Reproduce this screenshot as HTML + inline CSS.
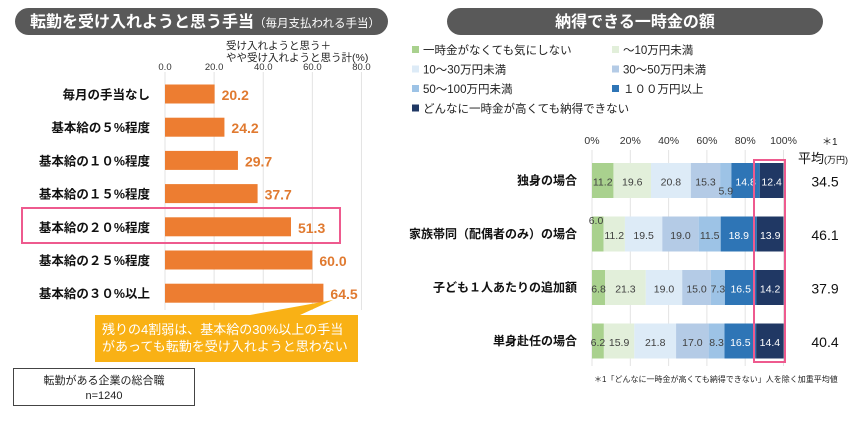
<!DOCTYPE html>
<html><head><meta charset="utf-8">
<style>
body{margin:0;width:865px;height:420px;background:#fff;overflow:hidden;font-family:"Liberation Sans","Noto Sans CJK JP",sans-serif;}
svg text{font-family:"Liberation Sans","Noto Sans CJK JP",sans-serif;}
</style></head>
<body>
<svg id="s" width="865" height="420" xmlns="http://www.w3.org/2000/svg">
<rect x="15" y="8" width="373" height="27" rx="13.5" fill="#595959"/>
<text x="30" y="27" fill="#fff" font-size="16" font-weight="bold">転勤を受け入れようと思う手当<tspan font-size="11.5" font-weight="normal">（毎月支払われる手当）</tspan></text>
<rect x="447" y="8" width="376" height="27" rx="13.5" fill="#595959"/>
<text x="635" y="27" fill="#fff" font-size="16" font-weight="bold" text-anchor="middle">納得できる一時金の額</text>
<text x="226" y="49" font-size="10.5" fill="#222">受け入れようと思う＋</text>
<text x="226" y="61" font-size="10.5" fill="#222">やや受け入れようと思う計(%)</text>
<g id="L"></g>
<rect x="22" y="208" width="318" height="35" fill="none" stroke="#ee5a8e" stroke-width="2"/>
<path d="M95 315 H250 L333 300 L300 315 H358 V362 H95 Z" fill="#f9b115"/>
<text x="102" y="334" font-size="13" fill="#fff">残りの4割弱は、基本給の30%以上の手当</text>
<text x="102" y="351" font-size="13" fill="#fff">があっても転勤を受け入れようと思わない</text>
<rect x="13.5" y="368.5" width="181" height="37" fill="#fff" stroke="#444"/>
<text x="104" y="384" font-size="11" text-anchor="middle" fill="#222">転勤がある企業の総合職</text>
<text x="104" y="399" font-size="11" text-anchor="middle" fill="#222">n=1240</text>
<g id="leg"></g>
<g id="R"></g>
<text x="822" y="145" font-size="10" fill="#222">＊1</text>
<text x="798" y="163" font-size="13" fill="#111">平均<tspan font-size="9">(万円)</tspan></text>
<text x="594" y="382" font-size="8" fill="#222">＊1「どんなに一時金が高くても納得できない」人を除く加重平均値</text>
</svg>
<script>
const leftCats=["毎月の手当なし","基本給の５%程度","基本給の１０%程度","基本給の１５%程度","基本給の２０%程度","基本給の２５%程度","基本給の３０%以上"];
const leftVals=[20.2,24.2,29.7,37.7,51.3,60.0,64.5];
const leftTicks=[0,20,40,60,80];
const rightCats=["独身の場合","家族帯同（配偶者のみ）の場合","子ども１人あたりの追加額","単身赴任の場合"];
const seriesNames=["一時金がなくても気にしない","～10万円未満","10～30万円未満","30～50万円未満","50～100万円未満","１００万円以上","どんなに一時金が高くても納得できない"];
const s1=[11.2,6.0,6.8,6.2];
const s2=[19.6,11.2,21.3,15.9];
const s3=[20.8,19.5,19.0,21.8];
const s4=[15.3,19.0,15.0,17.0];
const s5=[5.9,11.5,7.3,8.3];
const s6=[14.8,18.9,16.5,16.5];
const s7=[12.4,13.9,14.2,14.4];
const means=["34.5","46.1","37.9","40.4"];
const rightTicks=[0,20,40,60,80,100];

const NS="http://www.w3.org/2000/svg";
function mk(p,t,a,txt){const e=document.createElementNS(NS,t);for(const k in a)e.setAttribute(k,a[k]);if(txt!==undefined)e.textContent=txt;p.appendChild(e);return e;}
const L=document.getElementById('L');
const lx=v=>165+v*2.456, ly=i=>94+i*33.2;
leftTicks.forEach(t=>{
 const g=mk(L,'line',{x1:lx(t),x2:lx(t),y1:72,y2:310,stroke:'#e3e3e3'});
 
 const tl=mk(L,'text',{x:lx(t),y:70,'font-size':9.5,'text-anchor':'middle',fill:'#333'},t.toFixed(1));
 
});
leftCats.forEach((c,i)=>{
 const y=ly(i);
 const lb=mk(L,'text',{x:150,y:y+5,'font-size':12.5,'font-weight':'bold','text-anchor':'end',fill:'#111'},c);
 
 const b=mk(L,'rect',{x:lx(0),y:y-9.5,width:lx(leftVals[i])-lx(0),height:19,fill:'#ed7d31'});
 
 const v=mk(L,'text',{x:lx(leftVals[i])+7,y:y+6,'font-size':14,'font-weight':'bold',fill:'#e07a30'},leftVals[i].toFixed(1));
 
});
const colors=['#a9d18e','#e2efda','#ddebf7','#b4cbe6','#9dc3e6','#2e75b6','#203864'];
const leg=document.getElementById('leg');
seriesNames.forEach((n,i)=>{
 const x=i%2?612:412, y=50+Math.floor(i/2)*19.5;
 const sw=mk(leg,'rect',{x:x,y:y-4,width:7,height:7,fill:colors[i]});
 
 const t=mk(leg,'text',{x:x+11,y:y+4,'font-size':11.5,fill:'#222'},n);
 
});
const R=document.getElementById('R');
const rx=v=>592+v*1.915, ry=i=>180.5+i*53.5;
rightTicks.forEach(t=>{
 const g=mk(R,'line',{x1:rx(t),x2:rx(t),y1:150,y2:366,stroke:'#e3e3e3'});
 
 const tl=mk(R,'text',{x:rx(t),y:144,'font-size':10.5,'text-anchor':'middle',fill:'#333'},t+'%');
 
});
const series=[s1,s2,s3,s4,s5,s6,s7];
rightCats.forEach((c,i)=>{
 const y=ry(i);
 const lb=mk(R,'text',{x:577,y:y+4,'font-size':12,'font-weight':'bold','text-anchor':'end',fill:'#111'},c);
 
 let acc=0;
 series.forEach((s,k)=>{
  const v=s[i];
  const r=mk(R,'rect',{x:rx(acc),y:y-17.5,width:rx(acc+v)-rx(acc),height:35,fill:colors[k]});
  
  acc+=v;
 });
 acc=0;
 series.forEach((s,k)=>{
  const v=s[i];
  let tx=rx(acc+v/2), ty=y+5;
  if(k===0&&v<=6.0){tx=rx(acc)+4;ty=y-10;}
  else if(k===4&&i===0){ty=y+14;}
  const t=mk(R,'text',{x:tx,y:ty,'font-size':10.5,'text-anchor':'middle',fill:k>=5?'#fff':'#404040'},v.toFixed(1));
  
  acc+=v;
 });
 const m=mk(R,'text',{x:825,y:y+6,'font-size':14,'text-anchor':'middle',fill:'#111'},means[i]);
 
});
const hb=mk(R,'rect',{x:754,y:160,width:31,height:202,fill:'none',stroke:'#ee5a8e','stroke-width':2});


</script>
</body></html>
